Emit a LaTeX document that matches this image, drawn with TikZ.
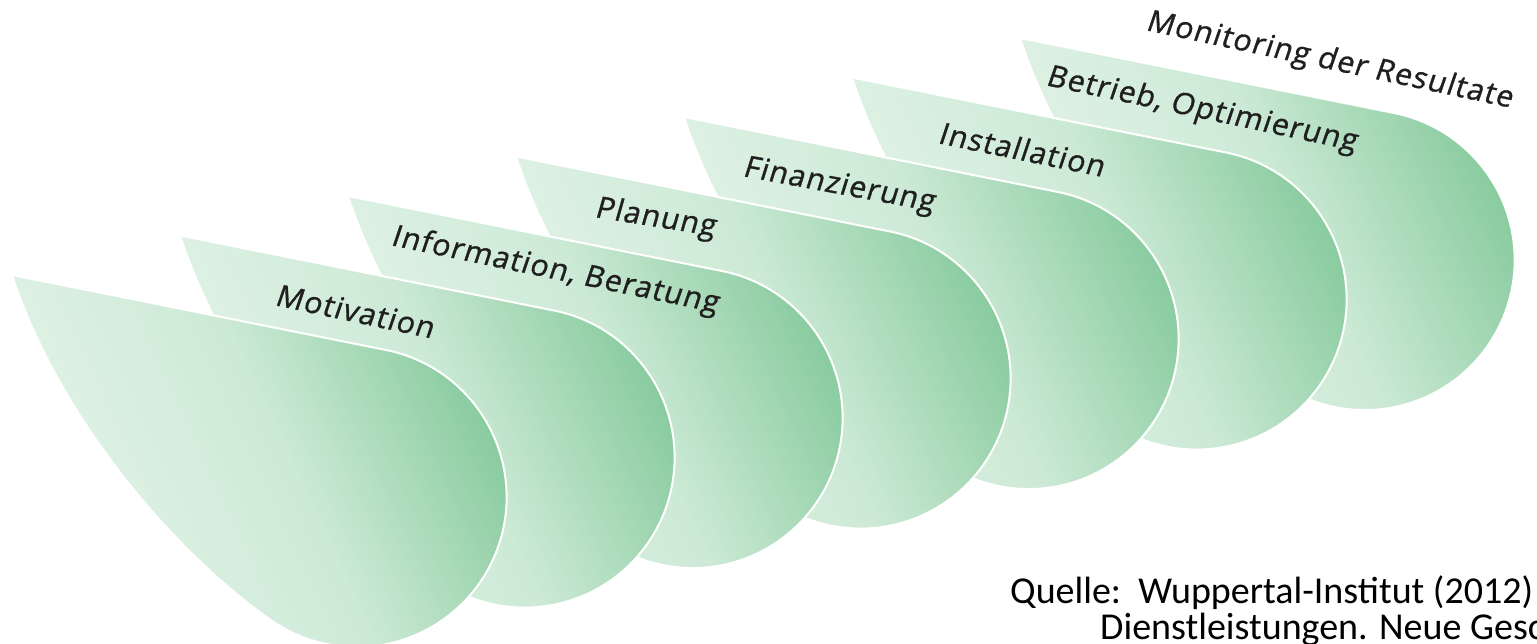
\documentclass[tikz,border=0pt]{standalone}
\usepackage{fontspec}
\setmainfont{Carlito}
\newfontfamily\leaffont[FakeSlant=0.12,LetterSpace=4,FakeBold=1]{Open Sans}
\definecolor{leafA}{HTML}{E5F4EA}
\definecolor{leafB}{HTML}{CDEAD6}
\definecolor{leafC}{HTML}{84C99B}
\pgfdeclarehorizontalshading{leafshade}{100bp}{color(0bp)=(leafA); color(25bp)=(leafA); color(52bp)=(leafB); color(75bp)=(leafC); color(100bp)=(leafC)}
\begin{document}
\begin{tikzpicture}[x=1pt,y=-1pt]
\tikzset{
  leaf/.style={shading=leafshade, shading angle=25, draw=white, line width=2pt, line join=round},
  lab/.style={font=\leaffont\fontsize{30}{30}\selectfont, anchor=base west, inner sep=0pt, text=black!88},
  captxt/.style={font=\fontsize{38}{38}\selectfont, anchor=base west, inner sep=0pt, text=black}
}
\useasboundingbox (0,0) rectangle (1537,644);
\clip (0,0) rectangle (1537,644);
\fill[white] (0,0) rectangle (1537,644);
\foreach \i in {6,5,...,0} {
  \begin{scope}[shift={(168*\i,-39.5*\i)}]
    \path[leaf] (12,275) -- (386,350) arc[start angle=-78.7, end angle=125, radius=150]
      .. controls (164.5,545) and (55,408) .. (12,275) -- cycle;
  \end{scope}
}
\node[lab, rotate=-12] (l1) at (274,305) {Motivation};
\node[lab, rotate=-11.7] (l2) at (390,245) {Information, Beratung};
\node[lab, rotate=-9] (l3) at (594,217) {Planung};
\node[lab, rotate=-10.5] (l4) at (742,176) {Finanzierung};
\node[lab, rotate=-11.6] (l5) at (937,143) {Installation};
\node[lab, rotate=-12] (l6) at (1045,85) {Betrieb, Optimierung};
\node[lab, rotate=-12] (l7) at (1145,30) {Monitoring der Resultate};
\node[captxt] (q1) at (1010,603) {Quelle:\ \ Wuppertal-Institut (2012)};
\node[captxt] (q2) at (1100,639) {Dienstleistungen. Neue Gesc};
\end{tikzpicture}
\end{document}
